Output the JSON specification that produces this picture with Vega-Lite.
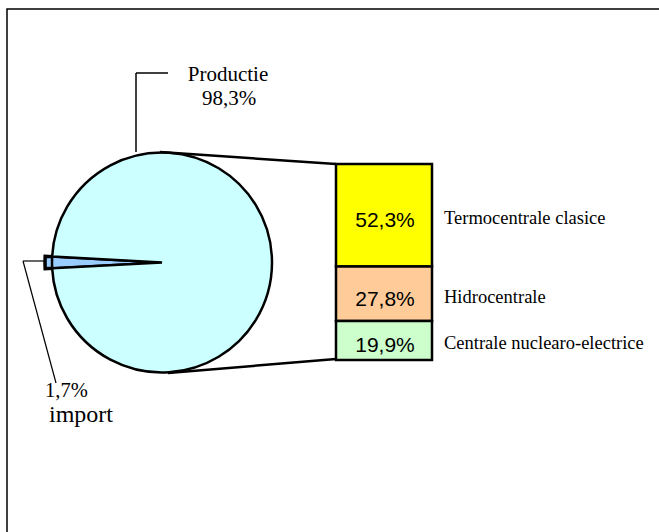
{
  "$schema": "https://vega.github.io/schema/vega-lite/v6.json",
  "width": 659,
  "height": 532,
  "autosize": {"type": "fit", "contains": "padding"},
  "padding": 0,
  "background": "white",
  "config": {
    "view": {"stroke": null},
    "axis": {"disable": true},
    "legend": {"disable": true}
  },
  "resolve": {"scale": {"y": "independent"}},
  "layer": [
    {
      "data": {"values": [{"part": "import", "value": 1.7}, {"part": "Productie", "value": 98.3}]},
      "transform": [
        {"calculate": "replace(format(datum.value, '.1f'), '.', ',') + '%'", "as": "pct"}
      ],
      "layer": [
        {
          "data": {"values": [{}]},
          "mark": {"type": "rect", "fill": null, "stroke": "black", "strokeWidth": 1.5, "clip": true},
          "encoding": {
            "x": {"datum": 7, "type": "quantitative", "scale": {"domain": [0, 659], "nice": false, "zero": false}},
            "x2": {"datum": 690},
            "y": {"datum": 9, "type": "quantitative", "scale": {"domain": [0, 532], "nice": false, "zero": false, "reverse": true}},
            "y2": {"datum": 570}
          }
        },
        {
          "mark": {"type": "arc", "outerRadius": 117, "stroke": "black", "strokeWidth": 3.5, "fill": "#99CCFF"},
          "encoding": {
            "x": {"datum": 162, "type": "quantitative"},
            "y": {"datum": 262.5, "type": "quantitative"},
            "theta": {"field": "value", "type": "quantitative", "stack": true, "scale": {"range": [4.6591, 10.9423]}},
            "opacity": {"condition": {"test": "datum.part === 'import'", "value": 1}, "value": 0}
          }
        },
        {
          "mark": {"type": "arc", "outerRadius": 110, "stroke": "black", "strokeWidth": 2.5},
          "encoding": {
            "x": {"datum": 162, "type": "quantitative"},
            "y": {"datum": 262.5, "type": "quantitative"},
            "theta": {"field": "value", "type": "quantitative", "stack": true},
            "fill": {"condition": {"test": "datum.part === 'import'", "value": "#99CCFF"}, "value": "#CCFFFF"}
          }
        },
        {
          "data": {"values": [{}]},
          "mark": {"type": "rule", "color": "black", "strokeWidth": 2.5},
          "encoding": {"x": {"datum": 160, "type": "quantitative"}, "y": {"datum": 152, "type": "quantitative"}, "x2": {"datum": 336}, "y2": {"datum": 164}}
        },
        {
          "data": {"values": [{}]},
          "mark": {"type": "rule", "color": "black", "strokeWidth": 2.5},
          "encoding": {"x": {"datum": 168, "type": "quantitative"}, "y": {"datum": 373, "type": "quantitative"}, "x2": {"datum": 336}, "y2": {"datum": 359}}
        },
        {
          "data": {"values": [{}]},
          "mark": {"type": "rule", "color": "black", "strokeWidth": 1.5},
          "encoding": {"x": {"datum": 136, "type": "quantitative"}, "y": {"datum": 73, "type": "quantitative"}, "x2": {"datum": 136}, "y2": {"datum": 152}}
        },
        {
          "data": {"values": [{}]},
          "mark": {"type": "rule", "color": "black", "strokeWidth": 1.5},
          "encoding": {"x": {"datum": 136, "type": "quantitative"}, "y": {"datum": 73, "type": "quantitative"}, "x2": {"datum": 168}, "y2": {"datum": 73}}
        },
        {
          "data": {"values": [{}]},
          "mark": {"type": "rule", "color": "black", "strokeWidth": 1.2},
          "encoding": {"x": {"datum": 23, "type": "quantitative"}, "y": {"datum": 261, "type": "quantitative"}, "x2": {"datum": 46}, "y2": {"datum": 261}}
        },
        {
          "data": {"values": [{}]},
          "mark": {"type": "rule", "color": "black", "strokeWidth": 1.2},
          "encoding": {"x": {"datum": 23, "type": "quantitative"}, "y": {"datum": 261, "type": "quantitative"}, "x2": {"datum": 56}, "y2": {"datum": 383}}
        },
        {
          "transform": [{"filter": "datum.part === 'Productie'"}],
          "mark": {"type": "text", "font": "Liberation Serif", "fontSize": 21, "align": "center", "baseline": "alphabetic", "color": "black"},
          "encoding": {"x": {"datum": 228, "type": "quantitative"}, "y": {"datum": 81, "type": "quantitative"}, "text": {"field": "part"}}
        },
        {
          "transform": [{"filter": "datum.part === 'Productie'"}],
          "mark": {"type": "text", "font": "Liberation Serif", "fontSize": 21, "align": "center", "baseline": "alphabetic", "color": "black"},
          "encoding": {"x": {"datum": 229, "type": "quantitative"}, "y": {"datum": 105, "type": "quantitative"}, "text": {"field": "pct"}}
        },
        {
          "transform": [{"filter": "datum.part === 'import'"}],
          "mark": {"type": "text", "font": "Liberation Serif", "fontSize": 20.5, "align": "left", "baseline": "alphabetic", "color": "black"},
          "encoding": {"x": {"datum": 45, "type": "quantitative"}, "y": {"datum": 397, "type": "quantitative"}, "text": {"field": "pct"}}
        },
        {
          "transform": [{"filter": "datum.part === 'import'"}],
          "mark": {"type": "text", "font": "Liberation Serif", "fontSize": 24, "align": "left", "baseline": "alphabetic", "color": "black"},
          "encoding": {"x": {"datum": 49, "type": "quantitative"}, "y": {"datum": 422, "type": "quantitative"}, "text": {"field": "part"}}
        }
      ]
    },
    {
      "data": {"values": [
        {"source": "Termocentrale clasice", "value": 52.3},
        {"source": "Hidrocentrale", "value": 27.8},
        {"source": "Centrale nuclearo-electrice", "value": 19.9}
      ]},
      "transform": [
        {"stack": "value", "groupby": [], "sort": [{"field": "value", "order": "ascending"}], "as": ["v0", "v1"]},
        {"calculate": "(datum.v0 + datum.v1) / 2", "as": "mid"},
        {"calculate": "replace(format(datum.value, '.1f'), '.', ',') + '%'", "as": "pct"}
      ],
      "layer": [
        {
          "mark": {"type": "bar", "stroke": "black", "strokeWidth": 2.5},
          "encoding": {
            "x": {"datum": 336, "type": "quantitative"},
            "x2": {"datum": 432},
            "y": {"field": "v0", "type": "quantitative", "scale": {"domain": [-87.76, 183.67], "nice": false, "zero": false}},
            "y2": {"field": "v1"},
            "fill": {"field": "source", "type": "nominal", "scale": {"domain": ["Termocentrale clasice", "Hidrocentrale", "Centrale nuclearo-electrice"], "range": ["#FFFF00", "#FFCC99", "#CCFFCC"]}}
          }
        },
        {
          "mark": {"type": "text", "font": "Liberation Sans", "fontSize": 21, "align": "center", "baseline": "middle", "dy": 6, "color": "black"},
          "encoding": {
            "x": {"datum": 385, "type": "quantitative"},
            "y": {"field": "mid", "type": "quantitative"},
            "text": {"field": "pct"}
          }
        },
        {
          "mark": {"type": "text", "font": "Liberation Serif", "fontSize": 18.5, "align": "left", "baseline": "middle", "dy": 3, "color": "black"},
          "encoding": {
            "x": {"datum": 444, "type": "quantitative"},
            "y": {"field": "mid", "type": "quantitative"},
            "text": {"field": "source"}
          }
        }
      ]
    }
  ]
}
